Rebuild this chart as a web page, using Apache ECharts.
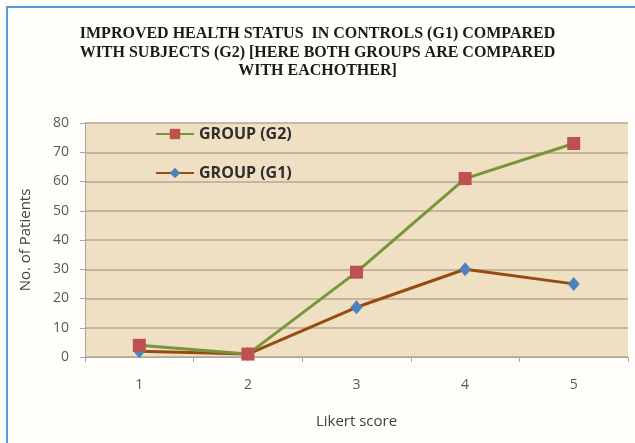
<!DOCTYPE html>
<html>
<head>
<meta charset="utf-8">
<script src="https://cdn.jsdelivr.net/npm/echarts@6/dist/echarts.min.js"></script>
<style>
  html, body { margin: 0; padding: 0; background: #ffffff; }
  #chart { width: 635px; height: 443px; }
</style>
</head>
<body>
<div id="chart"></div>
<script>
// Likert score categories and patient counts per group
const likertScores = ['1', '2', '3', '4', '5'];
const groupG1 = [2, 1, 17, 30, 25];
const groupG2 = [4, 1, 29, 61, 73];
const yTicks = { min: 0, max: 80, interval: 10 };

const titleText = 'IMPROVED HEALTH STATUS  IN CONTROLS (G1) COMPARED\nWITH SUBJECTS (G2) [HERE BOTH GROUPS ARE COMPARED\nWITH EACHOTHER]';

const chart = echarts.init(document.getElementById('chart'), null, { renderer: 'canvas' });

const axisFont = { fontFamily: 'Open Sans', fontSize: 14, color: '#595959' };

chart.setOption({
  animation: false,
  backgroundColor: '#fffefa',
  graphic: [{
    type: 'rect',
    shape: { x: 7, y: 7, width: 700, height: 500 },
    style: { fill: 'none', stroke: '#5b9bd5', lineWidth: 2 },
    z: 100
  }],
  title: {
    text: titleText,
    left: 'center',
    top: 20,
    textStyle: {
      fontFamily: 'Liberation Serif',
      fontWeight: 'bold',
      fontSize: 16,
      lineHeight: 18.5,
      color: '#1a1a1a'
    }
  },
  legend: {
    data: ['GROUP (G2)', 'GROUP (G1)'],
    orient: 'vertical',
    left: 150,
    top: 121,
    itemWidth: 38,
    itemHeight: 13,
    itemGap: 23,
    textStyle: { fontFamily: 'Open Sans', fontWeight: 'bold', fontSize: 16, color: '#2e2e2e' }
  },
  grid: {
    left: 85, right: 7, top: 123, bottom: 86,
    show: true, backgroundColor: '#efe0c3', borderWidth: 0
  },
  xAxis: {
    type: 'category',
    data: likertScores,
    boundaryGap: true,
    name: 'Likert score',
    nameLocation: 'middle',
    nameGap: 57,
    nameTextStyle: { fontFamily: 'Open Sans', fontSize: 15, color: '#404040' },
    axisLine: { lineStyle: { color: '#a6a6a6', width: 1 } },
    axisTick: { show: true, alignWithLabel: false, length: 5, lineStyle: { color: '#a6a6a6' } },
    axisLabel: Object.assign({ margin: 21 }, axisFont),
    splitLine: { show: false }
  },
  yAxis: {
    type: 'value',
    min: yTicks.min,
    max: yTicks.max,
    interval: yTicks.interval,
    name: 'No. of Patients',
    nameLocation: 'middle',
    nameGap: 52,
    nameTextStyle: { fontFamily: 'Open Sans', fontSize: 15, color: '#404040' },
    axisLine: { show: true, lineStyle: { color: '#a6a6a6', width: 1 } },
    axisTick: { show: true, length: 5, lineStyle: { color: '#a6a6a6' } },
    axisLabel: Object.assign({ margin: 16 }, axisFont),
    splitLine: { show: true, lineStyle: { color: '#b7a78e', width: 1.5 } }
  },
  series: [
    {
      name: 'GROUP (G1)',
      type: 'line',
      data: groupG1,
      symbol: 'diamond',
      symbolSize: [12, 14],
      lineStyle: { color: '#974b12', width: 3 },
      itemStyle: { color: '#4f81bd' }
    },
    {
      name: 'GROUP (G2)',
      type: 'line',
      data: groupG2,
      symbol: 'rect',
      symbolSize: 13,
      lineStyle: { color: '#77963c', width: 3 },
      itemStyle: { color: '#c0504d' }
    }
  ]
});
</script>
</body>
</html>
